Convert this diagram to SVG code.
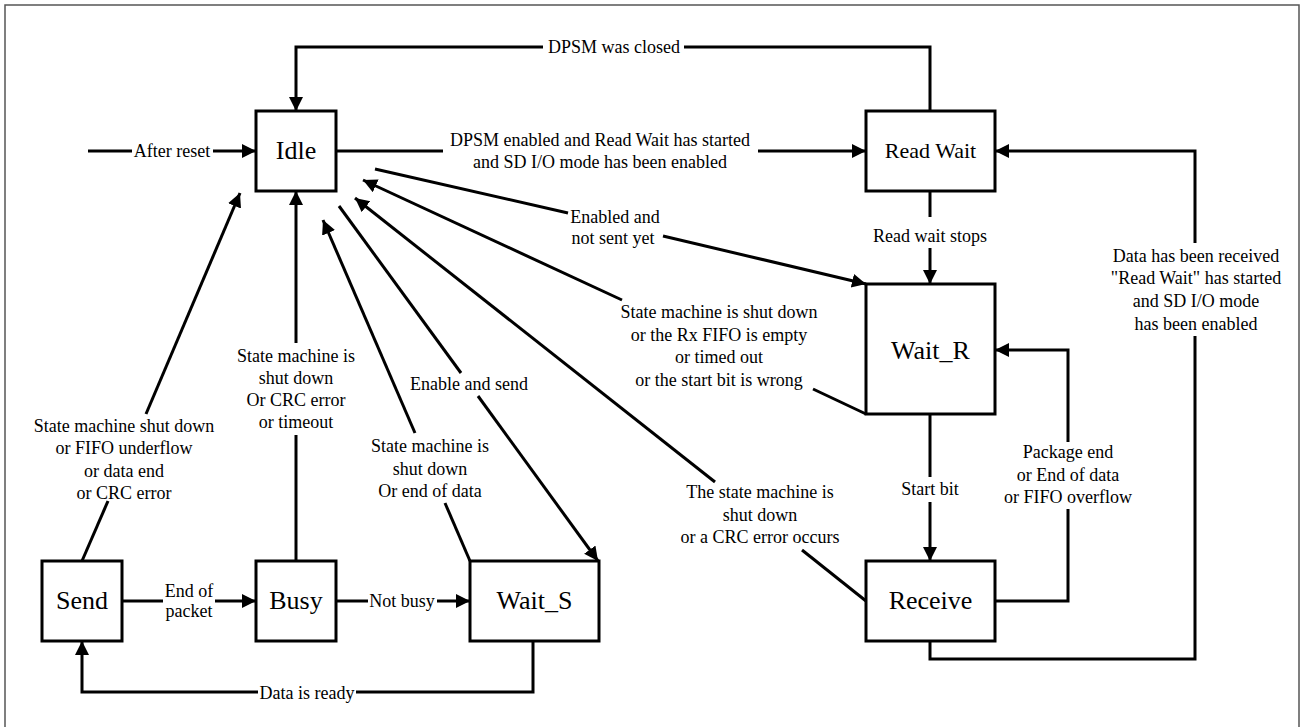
<svg xmlns="http://www.w3.org/2000/svg" width="1301" height="727" viewBox="0 0 1301 727">
<style>
.node rect{fill:#fff;stroke:#000;stroke-width:3}
.node text{font-size:26px;text-anchor:middle;fill:#000}
.c{fill:none;stroke:#000;stroke-width:3}
.a{marker-end:url(#arr)}
.lbl{font-size:18px;text-anchor:middle;fill:#000}
</style>
<defs>
<marker id="arr" markerUnits="userSpaceOnUse" markerWidth="16" markerHeight="16" refX="14" refY="7" orient="auto">
<path d="M0,0 L14,7 L0,14 z" fill="#000"/>
</marker>
</defs>
<rect width="1301" height="727" fill="#fff"/>
<path d="M5,727 V5 H1299 V727" fill="none" stroke="#555" stroke-width="1.5"/>

<g font-family="'Liberation Serif', 'Times New Roman', Times, 'DejaVu Serif', serif">
<g id="connectors">
<path class="c" d="M88,151 H132"/>
<path class="c a" d="M213,151 H256"/>
<text class="lbl" x="172" y="157">After reset</text>
<path class="c" d="M930,111 V47 H684"/>
<path class="c a" d="M543,47 H296 V111"/>
<text class="lbl" x="614" y="53">DPSM was closed</text>
<path class="c" d="M336,151 H443"/>
<path class="c a" d="M758,151 H866"/>
<text class="lbl" x="600" y="146">DPSM enabled and Read Wait has started</text>
<text class="lbl" x="600" y="168">and SD I/O mode has been enabled</text>
<path class="c" d="M930,191 V217"/>
<path class="c a" d="M930,248 V284"/>
<text class="lbl" x="930" y="242">Read wait stops</text>
<path class="c" d="M375,169 L568,213"/>
<path class="c a" d="M663,236 L866,284"/>
<text class="lbl" x="615" y="223">Enabled and</text>
<text class="lbl" x="613" y="244">not sent yet</text>
<path class="c" d="M866,414 L813,389"/>
<path class="c a" d="M622,300 L363,180"/>
<text class="lbl" x="719" y="318">State machine is shut down</text>
<text class="lbl" x="719" y="341">or the Rx FIFO is empty</text>
<text class="lbl" x="719" y="363">or timed out</text>
<text class="lbl" x="719" y="386">or the start bit is wrong</text>
<path class="c" d="M866,601 L802,550"/>
<path class="c a" d="M715,482 L355,198"/>
<text class="lbl" x="760" y="498">The state machine is</text>
<text class="lbl" x="760" y="521">shut down</text>
<text class="lbl" x="760" y="543">or a CRC error occurs</text>
<path class="c" d="M339,206 L461,373"/>
<path class="c a" d="M478,396 L598,561"/>
<text class="lbl" x="469" y="390">Enable and send</text>
<path class="c" d="M470,561 L445,503"/>
<path class="c a" d="M415,433 L323,220"/>
<text class="lbl" x="430" y="452">State machine is</text>
<text class="lbl" x="430" y="475">shut down</text>
<text class="lbl" x="430" y="497">Or end of data</text>
<path class="c" d="M296,561 V435"/>
<path class="c a" d="M296,343 V191"/>
<text class="lbl" x="296" y="362">State machine is</text>
<text class="lbl" x="296" y="384">shut down</text>
<text class="lbl" x="296" y="406">Or CRC error</text>
<text class="lbl" x="296" y="428">or timeout</text>
<path class="c" d="M82,561 L108,501"/>
<path class="c a" d="M146,414 L240,193"/>
<text class="lbl" x="124" y="432">State machine shut down</text>
<text class="lbl" x="124" y="454">or FIFO underflow</text>
<text class="lbl" x="124" y="477">or data end</text>
<text class="lbl" x="124" y="499">or CRC error</text>
<path class="c" d="M122,601 H163"/>
<path class="c a" d="M215,601 H256"/>
<text class="lbl" x="189" y="597">End of</text>
<text class="lbl" x="189" y="617">packet</text>
<path class="c" d="M336,601 H368"/>
<path class="c a" d="M437,601 H470"/>
<text class="lbl" x="402" y="607">Not busy</text>
<path class="c" d="M533,641 V692 H356"/>
<path class="c a" d="M258,692 H82 V641"/>
<text class="lbl" x="307" y="699">Data is ready</text>
<path class="c" d="M930,414 V477"/>
<path class="c a" d="M930,502 V561"/>
<text class="lbl" x="930" y="495">Start bit</text>
<path class="c" d="M995,601 H1068 V509"/>
<path class="c a" d="M1068,442 V350 H995"/>
<text class="lbl" x="1068" y="458">Package end</text>
<text class="lbl" x="1068" y="481">or End of data</text>
<text class="lbl" x="1068" y="503">or FIFO overflow</text>
<path class="c" d="M930,641 V659 H1195 V336"/>
<path class="c a" d="M1195,243 V151 H995"/>
<text class="lbl" x="1196" y="262">Data has been received</text>
<text class="lbl" x="1196" y="284">"Read Wait" has started</text>
<text class="lbl" x="1196" y="307">and SD I/O mode</text>
<text class="lbl" x="1196" y="330">has been enabled</text>
</g>

<g id="idle" class="node"><rect x="256" y="111" width="80" height="80"/><text x="296" y="159">Idle</text></g>
<g id="read-wait" class="node"><rect x="866" y="111" width="129" height="80"/><text x="930.5" y="158" font-size="22" style="font-size:22px">Read Wait</text></g>
<g id="wait-r" class="node"><rect x="866" y="284" width="129" height="130"/><text x="930.5" y="359">Wait_R</text></g>
<g id="send" class="node"><rect x="42" y="561" width="80" height="80"/><text x="82" y="609">Send</text></g>
<g id="busy" class="node"><rect x="256" y="561" width="80" height="80"/><text x="296" y="609">Busy</text></g>
<g id="wait-s" class="node"><rect x="470" y="561" width="129" height="80"/><text x="534.5" y="609">Wait_S</text></g>
<g id="receive" class="node"><rect x="866" y="561" width="129" height="80"/><text x="930.5" y="609">Receive</text></g>
</g>
</svg>
